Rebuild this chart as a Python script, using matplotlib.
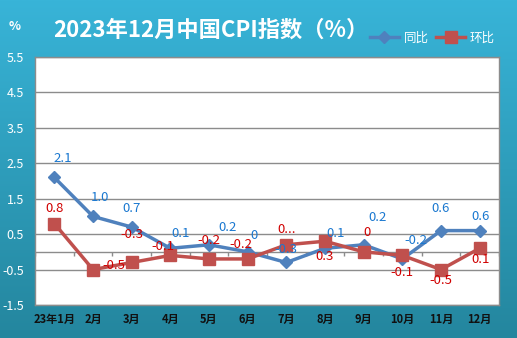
import matplotlib.pyplot as plt
import numpy as np

plt.rcParams['font.family'] = ['Noto Sans CJK SC', 'DejaVu Sans']

months = ['23年1月', '2月', '3月', '4月', '5月', '6月', '7月', '8月', '9月', '10月', '11月', '12月']
yoy = [2.1, 1.0, 0.7, 0.1, 0.2, 0.0, -0.3, 0.1, 0.2, -0.2, 0.6, 0.6]
mom = [0.8, -0.5, -0.3, -0.1, -0.2, -0.2, 0.2, 0.3, 0.0, -0.1, -0.5, 0.1]
yoy_labels = ['2.1', '1.0', '0.7', '0.1', '0.2', '0', '-0.3', '0.1', '0.2', '-0.2', '0.6', '0.6']
mom_labels = ['0.8', '-0.5', '-0.3', '-0.1', '-0.2', '-0.2', '0...', '0.3', '0', '-0.1', '-0.5', '0.1']
yticks = [-1.5, -0.5, 0.5, 1.5, 2.5, 3.5, 4.5, 5.5]

# label offsets in pixels (dx, dy), picked by eye
yoy_off = [(8, 19), (7, 19), (0, 19), (10, 15), (19, 17), (6, 16), (0, 13), (11, 15), (14, 27), (14, 18), (0, 22), (1, 14)]
mom_off = [(0, 15), (21, 4), (0, 28), (-7, 9), (0, 18), (-7, 14), (0, 15), (0, -15), (3, 19), (0, -17), (0, -11), (1, -11)]

BLUE = '#4F81BD'
RED = '#C0504D'

fig = plt.figure(figsize=(5.17, 3.38), dpi=100)

# gradient background
bg = fig.add_axes([0, 0, 1, 1], zorder=-10)
grad = np.linspace(0, 1, 256).reshape(-1, 1)
top = np.array([0x38, 0xB4, 0xD8]) / 255
bot = np.array([0x24, 0x86, 0x9E]) / 255
img = top + (bot - top) * grad[..., None]
bg.imshow(img, aspect='auto', extent=[0, 1, 0, 1])
bg.axis('off')

ax = fig.add_axes([35 / 517, 33 / 338, 464 / 517, 248 / 338])
ax.set_facecolor('white')
x = np.arange(len(months))

ax.set_ylim(-1.5, 5.5)
ax.set_xlim(-0.5, len(months) - 0.5)
ax.set_yticks(yticks)
ax.set_yticklabels([str(v) for v in yticks], color='white', fontsize=9)
ax.yaxis.grid(True, color='#8C8C8C', linewidth=1)
ax.set_axisbelow(True)
ax.tick_params(axis='y', length=0, pad=8)
for s in ax.spines.values():
    s.set_color('#8C8C8C')
    s.set_linewidth(1)

ax.set_xticks(x)
ax.set_xticklabels(months, fontsize=8, fontweight='bold', color='#111111')
ax.tick_params(axis='x', length=0, pad=6)

# zero line with category tick marks
ax.axhline(0, color='#8C8C8C', linewidth=1, zorder=1)
ax.vlines(np.arange(len(months) + 1) - 0.5, -0.11, 0, color='#8C8C8C', linewidth=1, zorder=1)

ax.plot(x, yoy, color=BLUE, linewidth=2.5, marker='D', markersize=6, label='同比', zorder=3)
ax.plot(x, mom, color=RED, linewidth=2.5, marker='s', markersize=9, label='环比', zorder=3)

for i in range(len(months)):
    ax.annotate(yoy_labels[i], (x[i], yoy[i]), xytext=yoy_off[i], textcoords='offset pixels',
                ha='center', va='center', color='#1A78D0', fontsize=9.5, zorder=5)
    ax.annotate(mom_labels[i], (x[i], mom[i]), xytext=mom_off[i], textcoords='offset pixels',
                ha='center', va='center', color='#D00000', fontsize=9.5, zorder=5)

fig.text(15 / 517, 1 - 26 / 338, '%', color='white', fontsize=9, fontweight='bold', ha='center', va='center')
fig.text(211 / 517, 1 - 30 / 338, '2023年12月中国CPI指数（%）', color='white', fontsize=16,
         fontweight='bold', ha='center', va='center')

fig.legend(loc='center right', bbox_to_anchor=(500 / 517, 1 - 38 / 338), ncol=2, frameon=False,
           labelcolor='white', fontsize=9, handlelength=2.3, columnspacing=0.6, handletextpad=0.4,
           borderaxespad=0)

fig.savefig('out.png', dpi=100)
